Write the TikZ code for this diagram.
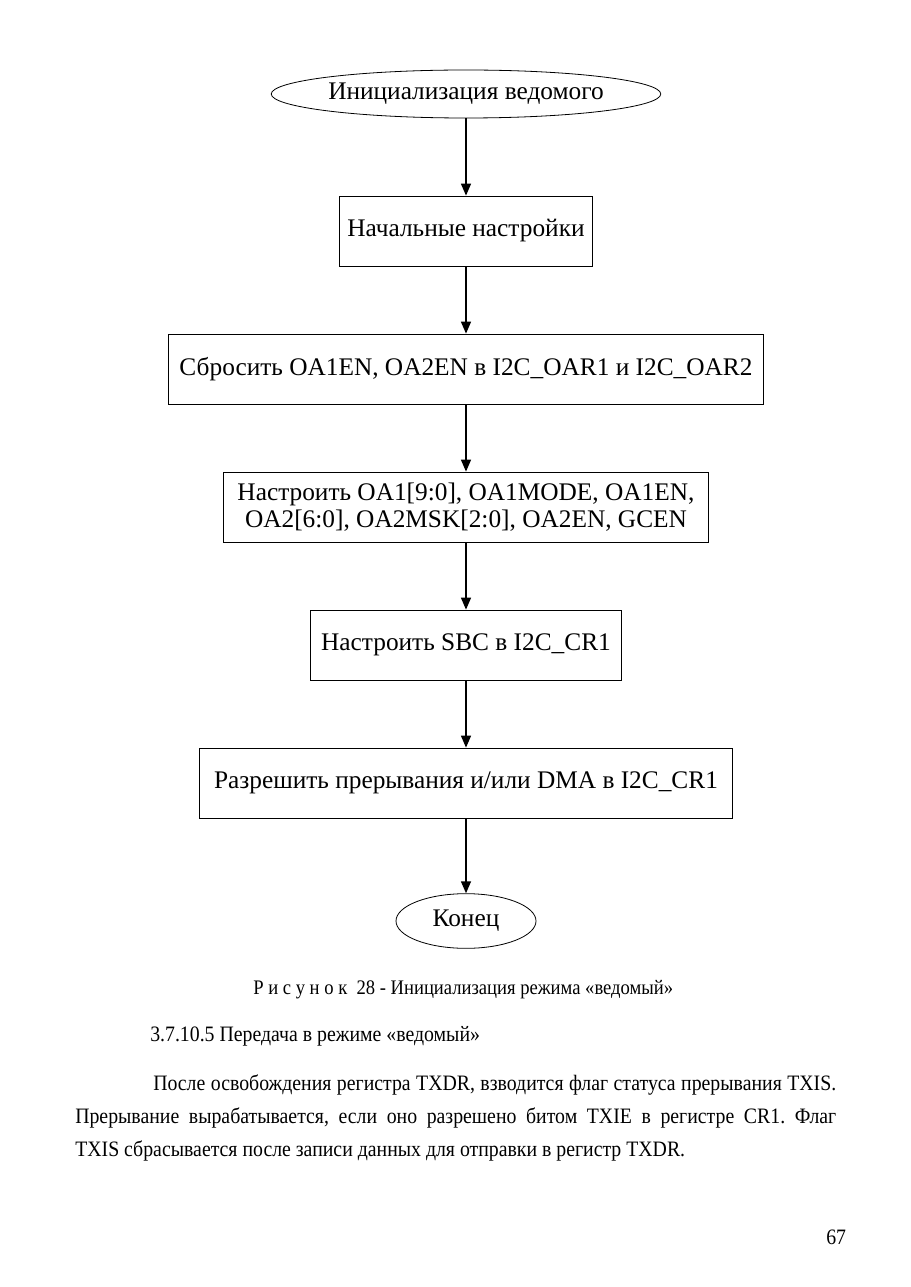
\documentclass[tikz,border=0pt]{standalone}
\usepackage{fontspec}
\setmainfont{Liberation Serif}
\newfontfamily\bodyfont[FakeStretch=0.9]{Liberation Serif}
\usetikzlibrary{shapes,positioning,arrows.meta}
\tikzset{>={Triangle[length=9pt,width=7.5pt]}}
\colorlet{background}{white}
\colorlet{penColor}{black}
\frenchspacing
\tikzset{
  block/.style={draw=penColor, line width=0.6pt, rectangle, minimum height=52.5pt,
    inner xsep=6pt, align=center, font=\fontsize{19}{20.5}\selectfont},
  term/.style={draw=penColor, line width=0.6pt, ellipse, inner sep=0pt,
    font=\fontsize{19}{20.5}\selectfont},
  flow/.style={->, line width=1.1pt, penColor},
  bodyline/.style={anchor=base west, inner sep=0pt, font=\bodyfont\fontsize{16.5}{20}\selectfont}
}

\begin{document}
\begin{tikzpicture}[x=0.75pt,y=-0.75pt]
  \useasboundingbox[fill=background] (0,0) rectangle (910,1287);
  % flowchart
  \node[term, minimum width=290pt, minimum height=36pt] (start) at (466,94) {Инициализация ведомого};
  \node[block, minimum width=190pt] (setup) at (466,231) {Начальные настройки};
  \node[block, minimum width=446pt] (reset) at (466,369) {Сбросить OA1EN, OA2EN в I2C\_OAR1 и I2C\_OAR2};
  \node[block, minimum width=364pt] (addr) at (466,507) {Настроить OA1[9:0], OA1MODE, OA1EN,\\OA2[6:0], OA2MSK[2:0], OA2EN, GCEN};
  \node[block, minimum width=233pt] (sbc) at (466,645) {Настроить SBC в I2C\_CR1};
  \node[block, minimum width=400pt] (irq) at (466,783) {Разрешить прерывания и/или DMA в I2C\_CR1};
  \node[term, minimum width=105pt, minimum height=41pt] (stop) at (466,921) {Конец};
  \draw[flow] (start) -- (setup);
  \draw[flow] (setup) -- (reset);
  \draw[flow] (reset) -- (addr);
  \draw[flow] (addr) -- (sbc);
  \draw[flow] (sbc) -- (irq);
  \draw[flow] (irq) -- (stop);
  % page text
  \node[bodyline, font=\bodyfont\fontsize{15.5}{20}\selectfont] (caption) at (253,994) {Р и с у н о к\ \ 28 - Инициализация режима «ведомый»};
  \node[bodyline] (head) at (150,1041) {3.7.10.5 Передача в режиме «ведомый»};
  \node[bodyline] (line1) at (153,1090) {\makebox[512.25pt][s]{После освобождения регистра TXDR, взводится флаг статуса прерывания TXIS.}};
  \node[bodyline] (line2) at (75,1123) {\makebox[570.75pt][s]{Прерывание вырабатывается, если оно разрешено битом TXIE в регистре CR1. Флаг}};
  \node[bodyline] (line3) at (75,1156) {TXIS сбрасывается после записи данных для отправки в регистр TXDR.};
  \node[bodyline] (pagenum) at (826,1244) {67};
\end{tikzpicture}
\end{document}
